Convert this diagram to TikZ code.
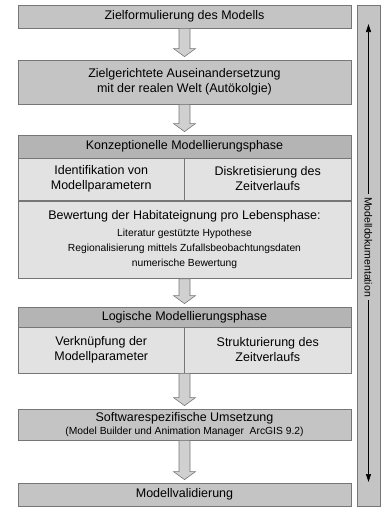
\documentclass[tikz,border=0pt]{standalone}
\usepackage{fontspec}
\setmainfont{Liberation Sans}
\usetikzlibrary{positioning, arrows.meta, calc}
\definecolor{boxgray}{RGB}{196,196,196}
\definecolor{headgray}{RGB}{180,180,180}
\definecolor{cellgray}{RGB}{226,226,226}
\definecolor{edgegray}{RGB}{118,118,118}
\definecolor{arrowgray}{RGB}{208,208,208}

% small text inside boxes
\newcommand{\kleinsz}{\fontsize{10.3}{13}\selectfont}

% hollow block arrow from the bottom of #1 to the top of #2
\newcommand{\flowarrow}[2]{%
    \draw[fa] let \p1=(#1.south), \p2=(#2.north) in
        (\x2-5.5pt,\y1) -- (\x2+5.5pt,\y1) -- (\x2+5.5pt,\y2+11pt)
        -- (\x2+11pt,\y2+11pt) -- (\x2,\y2+3pt) -- (\x2-11pt,\y2+11pt)
        -- (\x2-5.5pt,\y2+11pt) -- cycle;}

\begin{document}
\begin{tikzpicture}[
    x=1pt, y=-1pt,
    mainsz/.style={font=\fontsize{12.5}{15}\selectfont},
    blk/.style={draw=edgegray, fill=boxgray, line width=0.8pt,
        minimum width=333, minimum height=#1, inner sep=0pt,
        align=center, mainsz},
    kopf/.style={blk=#1, fill=headgray},
    zelle/.style={draw=edgegray, fill=cellgray, line width=0.8pt,
        minimum width=166.5, minimum height=#1, inner sep=0pt,
        align=center, mainsz},
    fa/.style={draw=edgegray, fill=arrowgray, line width=0.6pt},
    docpfeil/.style={-{Triangle[length=8pt,width=5pt]}, line width=0.6pt},
]
\useasboundingbox (0,0) rectangle (382,507);

% ====== LEFT: PHASES ======
\node[blk=23] (zielform) at (184.5,16.5) {Zielformulierung des Modells};
\node[blk=44] (realwelt) at (184.5,82)
    {Zielgerichtete Auseinandersetzung\\ mit der realen Welt (Autökolgie)};

\node[kopf=23] (konzKopf) at (184.5,146.5) {Konzeptionelle Modellierungsphase};
\node[zelle=42] (konzParam) at (101.25,179) {Identifikation von\\Modellparametern};
\node[zelle=42] (konzZeit)  at (267.75,179) {Diskretisierung des\\Zeitverlaufs};
\node[blk=77, fill=cellgray] (konzBew) at (184.5,240)
    {Bewertung der Habitateignung pro Lebensphase:\\[2pt]
     \kleinsz Literatur gestützte Hypothese\\
     \kleinsz Regionalisierung mittels Zufallsbeobachtungsdaten\\
     \kleinsz numerische Bewertung};

\node[kopf=20] (logKopf) at (184.5,317) {Logische Modellierungsphase};
\node[zelle=46] (logParam) at (101.25,350) {Verknüpfung der\\Modellparameter};
\node[zelle=46] (logZeit)  at (267.75,350) {Strukturierung des\\Zeitverlaufs};

\node[blk=31] (software) at (184.5,424.5)
    {Softwarespezifische Umsetzung\\[-2pt]
     \kleinsz (Model Builder und Animation Manager\ \ ArcGIS 9.2)};
\node[blk=23] (validierung) at (184.5,494.5) {Modellvalidierung};

\foreach \a/\b in {zielform/realwelt, realwelt/konzKopf, konzBew/logKopf,
    logParam/software, software/validierung}
    \flowarrow{\a}{\b};

% ====== RIGHT: DOCUMENTATION ======
\node[draw=edgegray, fill=boxgray, line width=0.8pt, minimum width=23,
    minimum height=501, inner sep=0pt] (dokuSpalte) at (368.5,255.5) {};
\node[rotate=-90, inner xsep=3pt, inner ysep=0pt,
    font=\fontsize{10.5}{12}\selectfont] (dokuText) at (368.5,247)
    {Modelldokumentation};
\coordinate (dokuOben)  at (368.5,24);
\coordinate (dokuUnten) at (368.5,482);
\draw[docpfeil] (dokuText.west) -- (dokuOben);
\draw[docpfeil] (dokuText.east) -- (dokuUnten);

\end{tikzpicture}
\end{document}
